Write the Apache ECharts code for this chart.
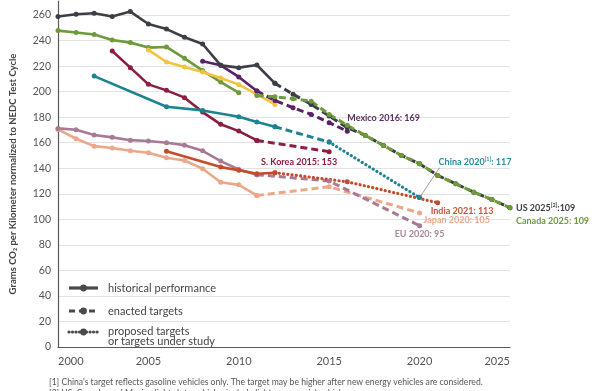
<!DOCTYPE html>
<html><head><meta charset="utf-8">
<script src="https://cdn.jsdelivr.net/npm/echarts@6/dist/echarts.min.js"></script>
<style>html,body{margin:0;padding:0;background:#fff}#c{width:600px;height:391px}</style>
</head><body><div id="c"></div>
<script>
// ---- data (year, grams CO2/km) ----
const yTicks = [0,20,40,60,80,100,120,140,160,180,200,220,240,260];
const xTicks = [2000,2005,2010,2015,2020,2025];

const usHist = [[2000,258.8],[2001,260.6],[2002,261.4],[2003,258.8],[2004,262.7],[2005,253],[2006,249],[2007,242.6],[2008,237.3],[2009,220.6],[2010,218.8],[2011,220.9],[2012,206.5]];
const usTarget = [[2012,206.5],[2013,198],[2014,190],[2015,181],[2016,171.8],[2017,165.7],[2018,157.9],[2019,150],[2020,143.5],[2021,134.4],[2022,127.8],[2023,121.3],[2024,115.5],[2025,109]];
const canadaHist = [[2000,247.8],[2001,246.3],[2002,244.7],[2003,240.5],[2004,238.4],[2005,234.5],[2006,235],[2007,226.1],[2008,216.5],[2009,207.5],[2010,199.2]];
const canadaTarget = [[2011,197],[2012,196],[2013,194.5],[2014,192.5],[2015,182.2],[2016,173.6],[2017,165.7],[2018,157.9],[2019,150],[2020,143.5],[2021,134.4],[2022,127.8],[2023,121.3],[2024,115.5],[2025,109]];
const australiaHist = [[2005,232.7],[2006,223.2],[2007,219.3],[2008,215.4],[2009,210.7],[2010,205.5],[2011,197.9],[2012,190]];
const mexicoHist = [[2008,223.8],[2009,220.6],[2010,211.5],[2011,200.5]];
const mexicoTarget = [[2011,200.5],[2012,193],[2013,187.4],[2014,182.2],[2015,175.7],[2016,169]];
const chinaHist = [[2002,212.2],[2006,188.2],[2008,185.3],[2010,180.4],[2011,176.2],[2012,172.5]];
const chinaTarget = [[2012,172.5],[2015,160.5]];
const chinaProposed = [[2015,160.5],[2020,117]];
const koreaHist = [[2003,231.8],[2004,218.8],[2005,205.7],[2006,201],[2007,195.3],[2008,184],[2009,174.4],[2010,169.1],[2011,161.8]];
const koreaTarget = [[2011,161.8],[2015,153]];
const euHist = [[2000,171.2],[2001,170.2],[2002,166],[2003,164.2],[2004,162],[2005,161.3],[2006,160],[2007,158.1],[2008,153.7],[2009,145.6],[2010,139],[2011,135]];
const euTarget = [[2011,135],[2015,130],[2020,95]];
const japanHist = [[2000,170.4],[2001,163.1],[2002,157.3],[2003,155.8],[2004,153.7],[2005,152.2],[2006,148.2],[2007,146.1],[2008,139.6],[2009,129.1],[2010,127],[2011,118.7]];
const japanTarget = [[2011,118.7],[2015,125.5],[2020,105]];
const indiaHist = [[2006,153.4],[2009,140.9],[2010,138.5],[2011,135.7],[2012,136.5]];
const indiaProposed = [[2012,136.5],[2016,129.4],[2021,113]];

const legendItems = ['historical performance','enacted targets','proposed targets\nor targets under study'];

// ---- colors ----
const C = {us:'#3b3f45', canada:'#6e9a3c', aus:'#f2c43e', mexico:'#5a2068', china:'#1d8391', korea:'#8c1c40', eu:'#a87a94', japan:'#eca689', india:'#c44b2c'};
const LEG = '#4a4a4a';
const FONT = 'Lato, "Open Sans", sans-serif';

function mk(name, data, color, kind){
  const ls = {color, width: 2.6};
  if (kind==='dashed'){ ls.type=[7,4]; ls.width=3; }
  if (kind==='dotted'){ ls.type=[0.1,4.2]; ls.width=3.2; ls.cap='round'; }
  return {name, type:'line', data, symbol:'circle', symbolSize:5, showAllSymbol:true,
    itemStyle:{color}, lineStyle:ls, silent:true, animation:false, z:2};
}

const series = [
  mk('Japan', japanHist, C.japan, 'solid'), mk('Japan t', japanTarget, C.japan, 'dashed'),
  mk('EU', euHist, C.eu, 'solid'), mk('EU t', euTarget, C.eu, 'dashed'),
  mk('India', indiaHist, C.india, 'solid'), mk('India p', indiaProposed, C.india, 'dotted'),
  mk('Korea', koreaHist, C.korea, 'solid'), mk('Korea t', koreaTarget, C.korea, 'dashed'),
  mk('China', chinaHist, C.china, 'solid'), mk('China t', chinaTarget, C.china, 'dashed'), mk('China p', chinaProposed, C.china, 'dotted'),
  mk('Canada', canadaHist, C.canada, 'solid'),
  mk('Australia', australiaHist, C.aus, 'solid'),
  mk('Mexico', mexicoHist, C.mexico, 'solid'), mk('Mexico t', mexicoTarget, C.mexico, 'dashed'),
  mk('US', usHist, C.us, 'solid'), mk('US t', usTarget, C.us, 'dashed'),
  mk('Canada t', canadaTarget, C.canada, 'dashed')
];

const chart = echarts.init(document.getElementById('c'), null, {renderer:'canvas'});
chart.setOption({
  animation:false,
  backgroundColor:'#fff',
  grid:{left:56, right:90, top:1, bottom:44, containLabel:false},
  xAxis:{type:'value', min:xTicks[0], max:xTicks[xTicks.length-1], interval:5,
    axisLine:{show:true, lineStyle:{color:'#5a5a5a', width:1.2}}, axisTick:{show:false}, splitLine:{show:false},
    axisLabel:{color:'#555', fontSize:11, fontFamily:FONT, margin:9, formatter:v=>String(v), alignMinLabel:'left', alignMaxLabel:'right'}},
  yAxis:{type:'value', min:0, max:271, interval:20,
    name:'Grams CO\u2082 per Kilometer normalized to NEDC Test Cycle', nameLocation:'middle', nameGap:40,
    nameTextStyle:{color:'#444', fontSize:9.5, fontWeight:'bold', fontFamily:FONT},
    axisLine:{show:true, lineStyle:{color:'#5a5a5a', width:1.2}}, axisTick:{show:false},
    splitLine:{show:true, showMaxLine:false, lineStyle:{color:'#e2e2e2', width:1}},
    axisLabel:{color:'#555', fontSize:10.5, fontFamily:FONT, margin:7, formatter:v=> (yTicks.indexOf(v)>=0 ? String(v) : '')}},
  series
});

// ---- annotations ----
const P = d => chart.convertToPixel({gridIndex:0}, d);
const g = [];
function lab(pt, dx, dy, text, color, align){
  const p = P(pt);
  g.push({type:'text', x:p[0]+dx, y:p[1]+dy, z:10, style:{text, fill:color, font:'bold 9px '+FONT, align:align||'left', verticalAlign:'middle',
    rich:{a:{fill:color, font:'bold 9px '+FONT}, s:{fill:color, font:'bold 5.5px '+FONT, verticalAlign:'top', padding:[0,0,5,0]}}}});
}
lab(mexicoTarget[mexicoTarget.length-1], 0, -13, '{a|Mexico 2016: 169}', '#5a3164');
lab(koreaTarget[koreaTarget.length-1], 8, 10, '{a|S. Korea 2015: 153}', C.korea, 'right');
const cp = P(chinaProposed[chinaProposed.length-1]);
g.push({type:'line', z:9, shape:{x1:cp[0], y1:cp[1], x2:cp[0]+20, y2:cp[1]-30}, style:{stroke:'#777', lineWidth:0.7}});
lab(chinaProposed[chinaProposed.length-1], 19, -36, '{a|China 2020}{s|[1]}{a|: 117}', '#2a8e9a');
lab(indiaProposed[indiaProposed.length-1], -7, 8, '{a|India 2021: 113}', '#c5553a');
lab(japanTarget[japanTarget.length-1], 4, 7.5, '{a|Japan 2020: 105}', '#e9a98c');
lab(euTarget[euTarget.length-1], 0, 8.5, '{a|EU 2020: 95}', '#a8879b', 'center');
lab(usTarget[usTarget.length-1], 6, 0, '{a|US 2025}{s|[2]}{a|:109}', '#3b3f45');
lab(canadaTarget[canadaTarget.length-1], 6, 13.5, '{a|Canada 2025: 109}', '#6e9a3c');

// legend
const lx0 = 69, lx1 = 98;
const legY = [288, 311, 332];
const kinds = ['solid','dashed','dotted'];
kinds.forEach((k,i)=>{
  const y = legY[i];
  const st = {stroke:LEG, lineWidth:3.2};
  if (k==='dashed') st.lineDash=[6,4];
  if (k==='dotted'){ st.lineDash=[0.1,3.4]; st.lineCap='round'; }
  g.push({type:'line', z:10, shape:{x1:lx0, y1:y, x2:lx1, y2:y}, style:st});
  g.push({type:'circle', z:11, shape:{cx:(lx0+lx1)/2, cy:y, r:3.4}, style:{fill:LEG}});
  g.push({type:'text', z:11, x:108, y: i===2 ? y-6 : y, style:{text:legendItems[i], fill:'#444', font:'11px '+FONT, verticalAlign: i===2?'top':'middle', lineHeight:10, align:'left'}});
});
// footnotes
g.push({type:'text', x:49, y:382.5, z:10, style:{text:"[1] China's target reflects gasoline vehicles only. The target may be higher after new energy vehicles are considered.", fill:'#555', font:'8.6px '+FONT, verticalAlign:'middle'}});
g.push({type:'text', x:49, y:393.5, z:10, style:{text:"[2] US, Canada, and Mexico light-duty vehicles include light commercial vehicles.", fill:'#555', font:'8.6px '+FONT, verticalAlign:'middle'}});
chart.setOption({graphic:g});
</script></body></html>
